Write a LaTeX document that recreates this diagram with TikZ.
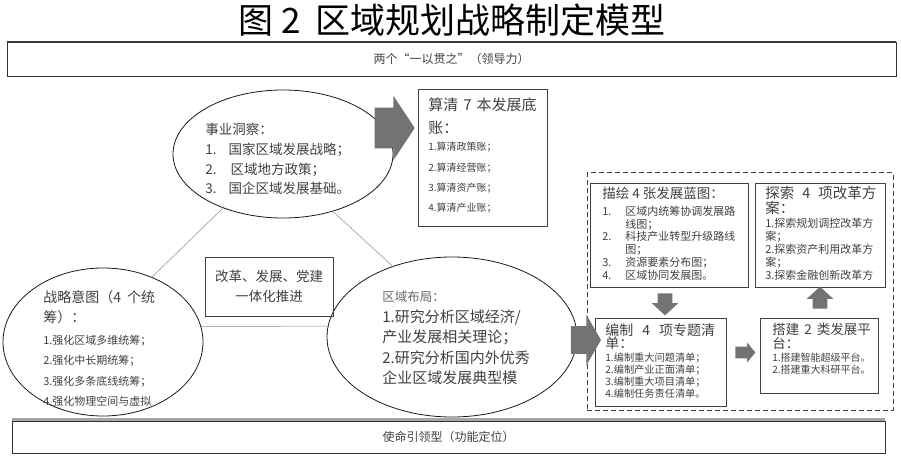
\documentclass[tikz,border=0pt]{standalone}
\usepackage{fontspec}
\usepackage{tikz}
\usetikzlibrary{arrows.meta, positioning, shapes.geometric, shapes.arrows}
\newfontfamily\cjk{Noto Sans CJK SC}
\newcommand\cfont[2]{\cjk\fontsize{#1}{#2}\selectfont\lineskiplimit=-100pt}

\begin{document}
\begin{tikzpicture}[x=1pt, y=-1pt, semithick,
	bubble/.style={ellipse, draw=black!90, line width=0.8pt, inner sep=0pt},
	card/.style={rectangle, draw=black!75, line width=0.9pt, inner sep=0pt},
	bar/.style={rectangle, draw=black!80, line width=0.8pt, inner sep=0pt, text=black!75},
	txt/.style={inner sep=0pt, align=left, anchor=north west, text=black!75},
	fat/.style={single arrow, fill=black!55, draw=none, inner xsep=0pt},
	link/.style={draw=black!45, line width=0.5pt}]
	\useasboundingbox (0,0) rectangle (901,457);
	
	% Title and bars
	\node[inner sep=0pt, font=\cfont{35}{38}] (title) at (452,20) {图\hspace{8pt}2\hspace{14pt}区域规划战略制定模型};
	\node[bar, minimum width=889, minimum height=34, font=\cfont{12}{14}] (lead) at (451.5,59) {两个“一以贯之”（领导力）};
	\draw[black!75, line width=1.8pt] (lead.north west) -- (lead.north east);
	\node[bar, minimum width=873, minimum height=32, font=\cfont{12}{14}] (mission) at (448.5,437) {使命引领型（功能定位）};
	\draw[black!35, line width=2.5pt] ([yshift=1pt]mission.north west) -- ([yshift=1pt]mission.north east);
	
	% Ellipses
	\node[bubble, minimum width=220, minimum height=128] (insight) at (283,154) {};
	\node[bubble, minimum width=200, minimum height=148] (intent) at (103,342) {};
	\node[bubble, minimum width=250, minimum height=160] (layout) at (452,337) {};
	
	% Lines
	\draw[link] (insight.222) -- (intent.53);
	\draw[link] (insight.311) -- (layout.130);
	\draw[link] (intent.9) -- (layout.175);
	
	% Ellipse texts
	\node[txt, font=\cfont{13.5}{19.7}] (insighttxt) at (205,123) {事业洞察：\\1.\hspace{12pt}国家区域发展战略；\\2.\hspace{14pt}区域地方政策；\\3.\hspace{12pt}国企区域发展基础。};
	\node[txt, font=\cfont{14}{20.5}] (intenthead) at (43,290) {战略意图（4\hspace{6pt}个统\\筹）：};
	\node[txt, font=\cfont{11}{20.6}] (intentlist) at (43,334.5) {1.强化区域多维统筹；\\2.强化中长期统筹；\\3.强化多条底线统筹；\\4.强化物理空间与虚拟};
	\node[txt, font=\cfont{12.5}{20}, text=black!60] (layouthead) at (382,291) {区域布局：};
	\node[txt, font=\cfont{15}{20.3}] (layoutlist) at (382,309.5) {1.研究分析区域经济/\\产业发展相关理论；\\2.研究分析国内外优秀\\企业区域发展典型模};
	
	% Boxes
	\node[card, minimum width=129, minimum height=137] (ledger) at (482.5,157.5) {};
	\node[txt, font=\cfont{15}{23}] (ledgerhead) at (428,97.5) {算清\hspace{5pt}7\hspace{5pt}本发展底\\账：};
	\node[txt, font=\cfont{10}{20.3}] (ledgerlist) at (428,142) {1.算清政策账；\\2.算清经营账；\\3.算清资产账；\\4.算清产业账；};
	
	\node[card, minimum width=128, minimum height=59, align=center, font=\cfont{13.5}{19.5}, text=black!75] (unify) at (269,286.5) {改革、发展、党建\\一体化推进};
	
	\node[rectangle, draw=black!75, dashed, dash pattern=on 5pt off 3pt, line width=1pt, minimum width=306, minimum height=237] (zone) at (740,291.5) {};
	
	\node[card, minimum width=158, minimum height=104] (blueprint) at (669,235) {};
	\node[txt, font=\cfont{13.5}{15}] (blueprinthead) at (602,186.5) {描绘\hspace{3pt}4\hspace{3pt}张发展蓝图：};
	\node[txt, font=\cfont{11}{12.7}] (blueprintlist) at (602,206) {\makebox[23pt][l]{1.}区域内统筹协调发展路\\\hspace*{23pt}线图；\\\makebox[23pt][l]{2.}科技产业转型升级路线\\\hspace*{23pt}图；\\\makebox[23pt][l]{3.}资源要素分布图；\\\makebox[23pt][l]{4.}区域协同发展图。};
	
	\node[card, minimum width=130, minimum height=104] (reform) at (820,235) {};
	\node[txt, font=\cfont{14.5}{15}] (reformhead) at (765,186) {探索\hspace{8pt}4\hspace{8pt}项改革方\\案：};
	\node[txt, font=\cfont{11}{12.9}] (reformlist) at (765,217.8) {1.探索规划调控改革方\\案；\\2.探索资产利用改革方\\案；\\3.探索金融创新改革方};
	
	\node[card, minimum width=131, minimum height=88] (topics) at (660.5,362) {};
	\node[txt, font=\cfont{14}{13.5}] (topicshead) at (605,323) {编制\hspace{9pt}4\hspace{9pt}项专题清\\单：};
	\node[txt, font=\cfont{10.2}{11.7}] (topicslist) at (605,353) {1.编制重大问题清单；\\2.编制产业正面清单；\\3.编制重大项目清单；\\4.编制任务责任清单。};
	
	\node[card, minimum width=118, minimum height=75] (platform) at (819,355.5) {};
	\node[txt, font=\cfont{13.5}{13.5}] (platformhead) at (772,323.2) {搭建\hspace{5pt}2\hspace{5pt}类发展平\\台：};
	\node[txt, font=\cfont{10}{12}] (platformlist) at (772,353) {1.搭建智能超级平台。\\2.搭建重大科研平台。};
	
	% Arrows
	\node[fat, inner ysep=20pt, minimum height=40, single arrow head extend=12, single arrow tip angle=113] (a1) at (388,128) {};
	\node[fat, inner ysep=13.5pt, minimum height=30, single arrow head extend=11.5, single arrow tip angle=120] (a2) at (582,340) {};
	\node[fat, rotate=-90, inner ysep=7pt, minimum height=22, single arrow head extend=6, single arrow tip angle=95] (a3) at (665,301) {};
	\node[fat, rotate=90, inner ysep=7pt, minimum height=22, single arrow head extend=6, single arrow tip angle=95] (a4) at (820,301) {};
	\node[fat, inner ysep=5.5pt, minimum height=20, single arrow head extend=4, single arrow tip angle=100] (a5) at (743,352.5) {};
	
\end{tikzpicture}
\end{document}
